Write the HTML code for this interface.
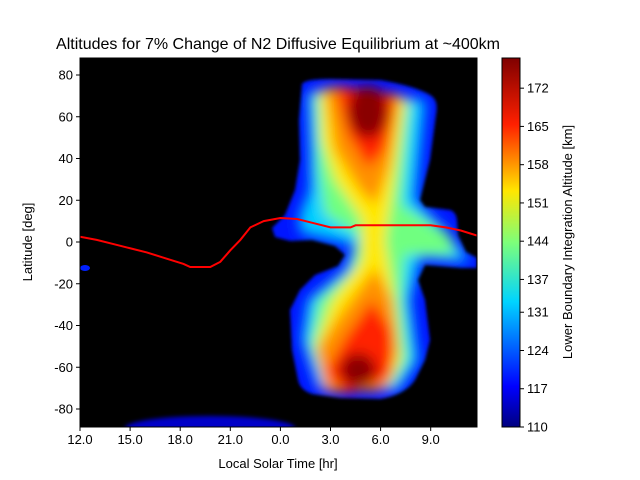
<!DOCTYPE html>
<html><head><meta charset="utf-8"><style>
body{margin:0;background:#fff;}
svg{display:block;font-family:"Liberation Sans",sans-serif;}
</style></head><body>
<svg width="640" height="480" viewBox="0 0 640 480">
<defs>
<filter id="bl" x="-20%" y="-20%" width="140%" height="140%"><feGaussianBlur stdDeviation="6"/></filter>
<filter id="bl2" x="-20%" y="-20%" width="140%" height="140%"><feGaussianBlur stdDeviation="2"/></filter>
<filter id="bl3" x="-20%" y="-20%" width="140%" height="140%"><feGaussianBlur stdDeviation="1.5"/></filter>
<clipPath id="plotclip"><rect x="80" y="58" width="397" height="369"/></clipPath>
<clipPath id="blobclip"><path d="M302,84 Q305,79 330,79 L380,80 Q415,86 430,95 Q439,100 436,115 L430,160 L420,200 L425,207 L450,210 Q456,212 457,220 L458,235 L466,252 L477,258 L477,268 L462,268 L425,265 L418,280 L425,300 L430,340 L425,360 L415,380 Q405,395 380,399 L340,398 L312,394 Q300,390 298,380 L292,350 L290,310 L300,290 L315,275 L338,266 L345,255 L335,246 L312,240 L290,241 L275,237 L272,228 L285,215 L295,190 L300,160 L299,120 Z"/></clipPath>
<linearGradient id="jet" x1="0" y1="1" x2="0" y2="0">
<stop offset="0" stop-color="#00007f"/><stop offset="0.11" stop-color="#0000ff"/>
<stop offset="0.34" stop-color="#00d4ff"/><stop offset="0.5" stop-color="#7dff7a"/>
<stop offset="0.64" stop-color="#ffe600"/><stop offset="0.82" stop-color="#ff2000"/>
<stop offset="1" stop-color="#7f0000"/></linearGradient>
</defs>
<text x="278" y="49" font-size="16" text-anchor="middle">Altitudes for 7% Change of N2 Diffusive Equilibrium at ~400km</text>
<rect x="80" y="58" width="397" height="369" fill="#000"/>
<g clip-path="url(#plotclip)">
<ellipse cx="210" cy="428" rx="85" ry="12" fill="#0000c8" filter="url(#bl2)"/>
<ellipse cx="85" cy="268" rx="5" ry="3" fill="#0020ff"/>
<g filter="url(#bl3)">
<g clip-path="url(#blobclip)">
<rect x="260" y="70" width="220" height="340" fill="#0018ff"/>
<g filter="url(#bl)">
<path d="M308,92 L425,100 L415,200 L440,225 L470,262 L420,258 L410,300 L418,360 L398,390 L318,388 L302,340 L308,300 L345,270 L355,245 L300,232 L300,215 L310,190 L310,150 Z" fill="#00d0ff"/>
<path d="M315,92 L410,100 L402,205 L450,235 L455,255 L405,255 L402,300 L408,360 L392,385 L325,385 L310,345 L318,300 L352,270 L358,235 L325,215 L318,170 Z" fill="#70ff80"/>
<path d="M320,90 L405,98 L394,180 L385,240 L394,300 L400,360 L388,385 L330,385 L316,345 L332,300 L362,260 L362,220 L335,180 L322,140 Z" fill="#ffe800"/>
<path d="M325,88 L400,95 L390,165 L375,205 L360,190 L335,150 Z" fill="#ff9000"/>
<path d="M375,268 L393,300 L398,350 L385,390 L325,392 L316,350 L340,315 Z" fill="#ff9000"/>
<path d="M335,86 L397,95 L385,150 L368,168 L348,135 Z" fill="#ff2000"/>
<path d="M372,300 L392,330 L392,378 L345,394 L326,372 L345,338 Z" fill="#ff2000"/>
<ellipse cx="368" cy="112" rx="20" ry="26" fill="#8a0000"/>
<ellipse cx="358" cy="370" rx="18" ry="17" fill="#8a0000"/>
</g>
</g>
</g>
</g>
<polyline id="redline" fill="none" stroke="#ff0000" stroke-width="2" clip-path="url(#plotclip)"/>
<rect x="80" y="58" width="397" height="369" fill="none" stroke="#000" stroke-width="1"/>
<g id="xaxis"></g>
<g id="yaxis"></g>
<text x="278" y="468" font-size="13" text-anchor="middle">Local Solar Time [hr]</text>
<text transform="translate(32,242) rotate(-90)" font-size="13" text-anchor="middle">Latitude [deg]</text>
<rect x="502" y="58" width="18" height="369" fill="url(#jet)" stroke="#000" stroke-width="1"/>
<g id="cbaxis"></g>
<text transform="translate(572,242) rotate(-90)" font-size="13" text-anchor="middle">Lower Boundary Integration Altitude [km]</text>
</svg>
<script>
const xTicks=[12,15,18,21,24,27,30,33];
const xTickLabels=["12.0","15.0","18.0","21.0","0.0","3.0","6.0","9.0"];
const yTicks=[-80,-60,-40,-20,0,20,40,60,80];
const cbTicks=[110,117,124,131,137,144,151,158,165,172];
const lineLST=[12,13,14,15,16,17,17.6,18.2,18.6,19.2,19.8,20.4,21,21.6,22.2,23,24,25,26,27,28.2,28.5,30,32,33,33.9,34.8,35.8];
const lineLat=[2.5,1,-1,-3,-5,-7.5,-9,-10.5,-12,-12,-12,-9.5,-4,1,7,10,11.5,11,9,7,7,8,8,8,8,7,5.5,3];
const NS="http://www.w3.org/2000/svg";
function X(v){return 80+(v-12)*16.7;}
function Y(v){return 242-v*2.0875;}
function C(v){return 427-(v-110)*5.465;}
document.getElementById('redline').setAttribute('points',lineLST.map((t,i)=>X(t)+','+Y(lineLat[i])).join(' '));
function mk(tag,attrs,parent){const e=document.createElementNS(NS,tag);for(const k in attrs)e.setAttribute(k,attrs[k]);parent.appendChild(e);return e;}
const xa=document.getElementById('xaxis');
xTicks.forEach((t,i)=>{
 const l=mk('line',{x1:X(t),x2:X(t),y1:427,y2:431,stroke:'#000'},xa);
 
 
 const tx=mk('text',{x:X(t),y:444,'font-size':13,'text-anchor':'middle'},xa);
 tx.textContent=xTickLabels[i];
 
 
});
const ya=document.getElementById('yaxis');
yTicks.forEach(t=>{
 const l=mk('line',{x1:76,x2:80,y1:Y(t),y2:Y(t),stroke:'#000'},ya);
 
 
 const tx=mk('text',{x:73,y:Y(t)+4.5,'font-size':13,'text-anchor':'end'},ya);
 tx.textContent=t;
 
 
});
const ca=document.getElementById('cbaxis');
cbTicks.forEach(t=>{
 const l=mk('line',{x1:520,x2:524,y1:C(t),y2:C(t),stroke:'#000'},ca);
 
 
 const tx=mk('text',{x:527,y:C(t)+4.5,'font-size':13},ca);
 tx.textContent=t;
 
 
});
</script>
</body></html>
